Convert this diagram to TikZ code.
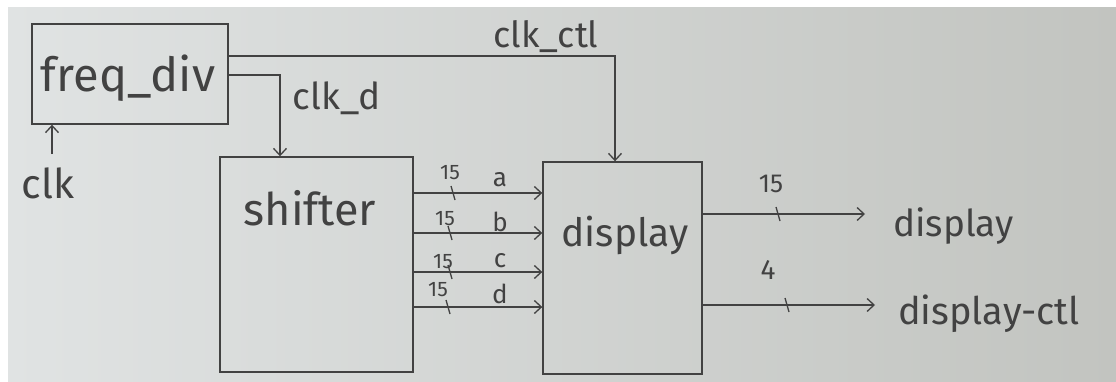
\documentclass[tikz,border=0pt]{standalone}
\usepackage{fontspec}
\setmainfont{Fira Sans}
\usetikzlibrary{arrows.meta}

\definecolor{papierG}{RGB}{224,227,227}
\definecolor{papierD}{RGB}{194,196,192}
\definecolor{crayon}{RGB}{66,66,66}

\tikzset{
  bloc/.style={draw=crayon, line width=1.4pt, inner sep=0pt},
  fil/.style={draw=crayon, line width=1.3pt},
  fleche/.style={fil, -{Straight Barb[length=7pt,width=13pt,line width=1.3pt]}},
  texte/.style={text=crayon, inner sep=0pt},
}

\begin{document}
\begin{tikzpicture}[x=1pt,y=-1pt]
    \useasboundingbox (0,0) rectangle (1116,382);

    % Papier
    \shade[left color=papierG, right color=papierD] (8,8) rectangle (1116,382);

    % Blocs
    \node[bloc, minimum width=196pt, minimum height=100pt] (freq) at (130,74) {};
    \node[bloc, minimum width=193pt, minimum height=215pt] (shifter) at (316.5,264.5) {};
    \node[bloc, minimum width=159pt, minimum height=212pt] (display) at (622.5,268) {};

    % Textes des blocs
    \node[texte, font=\fontsize{47}{47}\selectfont] (tfreq) at (128,78) {freq\_div};
    \node[texte, font=\fontsize{45}{45}\selectfont] (tshifter) at (310,208) {shifter};
    \node[texte, font=\fontsize{39}{39}\selectfont] (tdisplay) at (625,235) {display};

    % Horloges
    \node[texte, font=\fontsize{41}{41}\selectfont] (clk) at (48,183) {clk};
    \draw[fleche] ([yshift=13pt]clk.north -| 52,0) -- (52,0 |- freq.south);
    \draw[fleche] ([yshift=18pt]freq.east) -| ([xshift=-7.5pt]display.north);
    \node[texte, font=\fontsize{36}{36}\selectfont] (lctl) at (546,37) {clk\_ctl};
    \draw[fleche] ([yshift=-1pt]freq.east) -| ([xshift=-36.5pt]shifter.north);
    \node[texte, font=\fontsize{37}{37}\selectfont] (lclkd) at (337,98) {clk\_d};

    % Bus a, b, c, d
    \foreach \yy/\xt/\yt/\xq/\nom/\yn in {193/453/173/450/a/180, 233/450/219/445/b/222,
                                          272/450/262/443/c/261, 307/448/290/438/d/294}{
        \draw[fleche] (shifter.east |- 0,\yy) -- (display.west |- 0,\yy);
        \draw[fil] (\xt-2,\yy-7) -- (\xt+2,\yy+7);
        \node[texte, font=\fontsize{21}{21}\selectfont] at (\xq,\yt) {15};
        \node[texte, font=\fontsize{26}{26}\selectfont] at (500,\yn) {\nom};
    }

    % Sorties
    \node[texte, anchor=west, font=\fontsize{37}{37}\selectfont] (sdisplay) at (893,226) {display};
    \node[texte, anchor=west, font=\fontsize{38}{38}\selectfont] (sctl) at (898,314) {display-ctl};
    \draw[fleche] (display.east |- 0,214) -- ([xshift=-28pt]sdisplay.west |- 0,214);
    \draw[fleche] (display.east |- 0,305) -- ([xshift=-23pt]sctl.west |- 0,305);
    \draw[fil] (776,207) -- (780,221);
    \draw[fil] (785,298) -- (789,312);
    \node[texte, font=\fontsize{26}{26}\selectfont] at (771,184) {15};
    \node[texte, font=\fontsize{28}{28}\selectfont] at (768,270) {4};
\end{tikzpicture}
\end{document}
